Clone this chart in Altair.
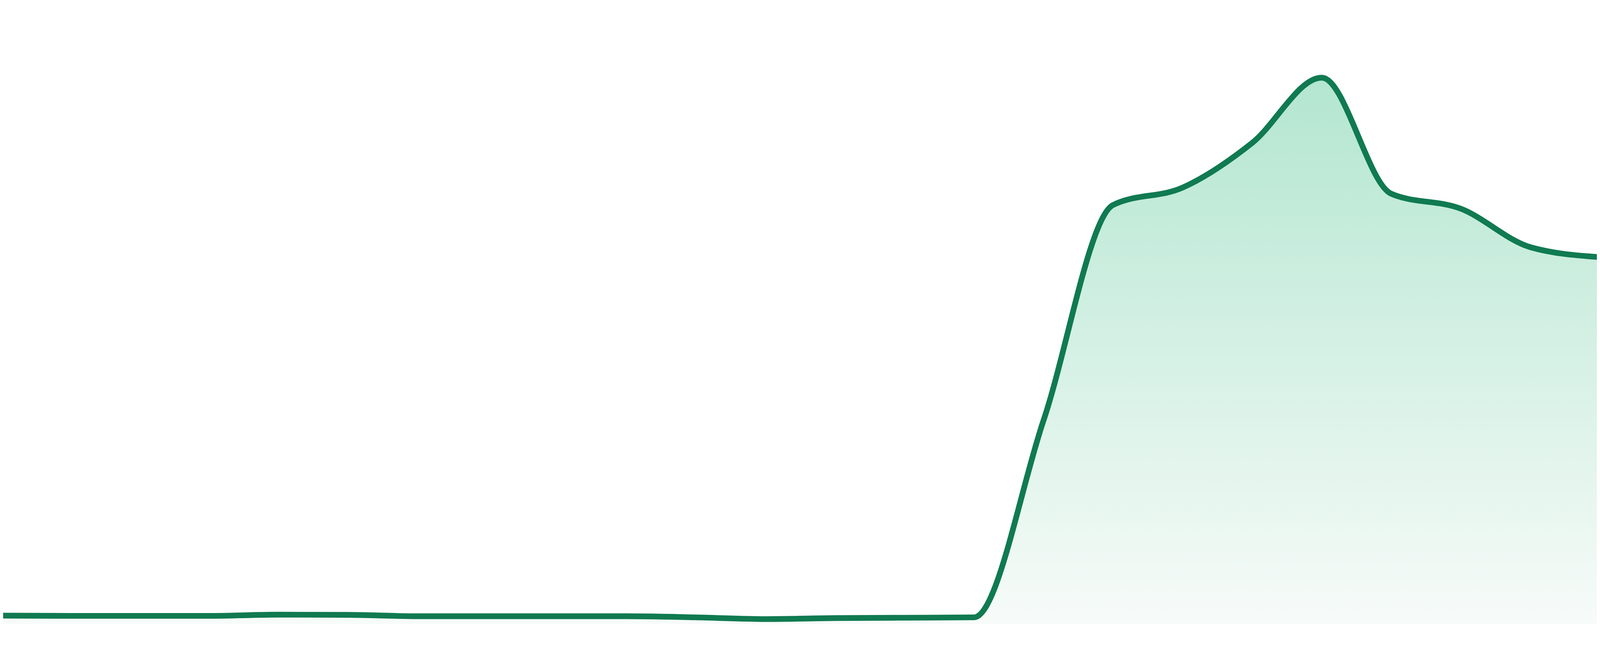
import pandas as pd
import altair as alt

# hourly values
hours = [0, 1, 2, 3, 4, 5, 6, 7, 8, 9, 10, 11,
         12, 13, 14, 15, 16, 17, 18, 19, 20, 21, 22, 23]
values = [1.39, 1.35, 1.35, 1.35, 1.54, 1.51, 1.29, 1.29, 1.29, 1.29, 1.11, 0.83,
          0.99, 1.05, 1.11, 32.8, 67.5, 70.3, 77.5, 88.0, 69.3, 66.9, 60.7, 59.1]

line_color = "#107a51"
fill_top = "#b3e6d0"
fill_bottom = "#f7fbf9"

df = pd.DataFrame({"hour": hours, "value": values})

x = alt.X("hour:Q", axis=None,
          scale=alt.Scale(domain=[0.0447, 22.955], nice=False, zero=False))
y = alt.Y("value:Q", axis=None,
          scale=alt.Scale(domain=[-2.41, 100.0], nice=False, zero=False))

area = alt.Chart(df).mark_area(
    interpolate="monotone",
    clip=True,
    color=alt.Gradient(
        gradient="linear",
        stops=[alt.GradientStop(color=fill_top, offset=0),
               alt.GradientStop(color=fill_bottom, offset=1)],
        x1=0, x2=0, y1=0, y2=1)
).encode(x=x, y=y, y2=alt.datum(0))

line = alt.Chart(df).mark_line(
    interpolate="monotone",
    clip=True,
    color=line_color,
    strokeWidth=14.6
).encode(x=x, y=y)

chart = alt.layer(area, line).properties(
    width="container",
    height=1629,
    padding=0,
    autosize=alt.AutoSizeParams(type="fit-x", contains="padding"),
    background="white"
).configure_view(strokeWidth=0)

chart.save("out.html", embed_options={"renderer": "svg", "actions": False})
